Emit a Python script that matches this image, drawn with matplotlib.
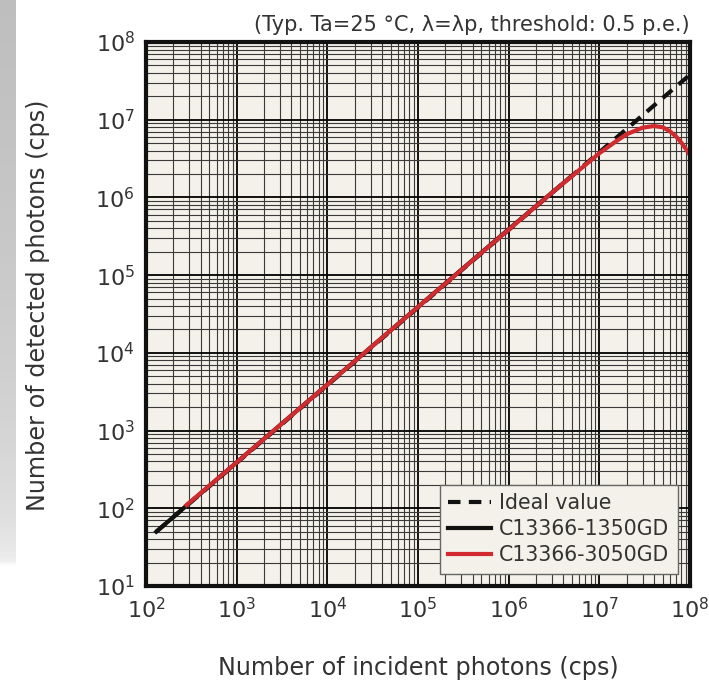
import numpy as np
import matplotlib.pyplot as plt
from matplotlib.ticker import LogLocator, NullFormatter

# data
ideal_x = [1.3e2, 1e8]
ideal_y = [5.0e1, 3.8e7]
c1350_x = [1.3e2, 1e3, 1e4, 1e5, 1e6, 5e6]
c1350_y = [5.0e1, 3.9e2, 3.9e3, 3.9e4, 3.9e5, 1.9e6]
c3050_x = [2.8e2, 1e3, 1e4, 1e5, 1e6, 3e6, 6e6, 1e7, 1.5e7, 2e7, 3e7, 4e7, 5e7, 6e7, 7e7, 8e7, 9e7, 1e8]
c3050_y = [1.1e2, 3.9e2, 3.9e3, 3.9e4, 3.85e5, 1.15e6, 2.25e6, 3.7e6, 5.2e6, 6.5e6, 7.9e6, 8.3e6, 8.0e6, 7.1e6, 6.1e6, 5.1e6, 4.2e6, 3.5e6]

bg = '#f3f1e9'
txt = '#333333'

fig = plt.figure(figsize=(7.09, 6.86), dpi=100)

# grey page shadow at the left edge
sh = fig.add_axes([0, 0.17, 0.022, 0.83])
grad = np.outer(np.linspace(0.0, 1.0, 100) ** 0.3, np.ones(10))
shade = np.ones((100, 10, 4))
shade[..., :3] = 0.72
shade[..., 3] = grad * 0.9
sh.imshow(shade, aspect='auto', origin='lower')
sh.axis('off')

ax = fig.add_axes([146/709, 1 - 586/686, 544/709, 544/686])
ax.set_facecolor(bg)
ax.set_xscale('log')
ax.set_yscale('log')
ax.set_xlim(1e2, 1e8)
ax.set_ylim(1e1, 1e8)

ax.xaxis.set_major_locator(LogLocator(base=10, numticks=10))
ax.yaxis.set_major_locator(LogLocator(base=10, numticks=10))
ax.xaxis.set_minor_locator(LogLocator(base=10, subs=np.arange(2, 10), numticks=20))
ax.yaxis.set_minor_locator(LogLocator(base=10, subs=np.arange(2, 10), numticks=20))
ax.xaxis.set_minor_formatter(NullFormatter())
ax.yaxis.set_minor_formatter(NullFormatter())
ax.grid(which='major', color='black', linewidth=1.3)
ax.grid(which='minor', color='#3a3a3a', linewidth=0.8)
ax.tick_params(which='both', length=0, labelsize=16, labelcolor=txt, pad=8)
for s in ax.spines.values():
    s.set_linewidth(3)
    s.set_color('#111111')

ax.plot(ideal_x, ideal_y, color='#111111', linestyle=(0, (3, 2)), linewidth=3, label='Ideal value')
ax.plot(c1350_x, c1350_y, color='#111111', linewidth=3, label='C13366-1350GD')
ax.plot(c3050_x, c3050_y, color='#d12a2f', linewidth=3, label='C13366-3050GD')

leg = ax.legend(loc='lower right', fontsize=14.8, frameon=True, fancybox=False,
                handlelength=2.1, handletextpad=0.4, borderpad=0.4,
                labelspacing=0.3, borderaxespad=0.6)
leg.get_frame().set_facecolor(bg)
leg.get_frame().set_edgecolor('#666666')
leg.get_frame().set_alpha(1)
for t in leg.get_texts():
    t.set_color(txt)

ax.text(1.0, 1.012, '(Typ. Ta=25 °C, λ=λp, threshold: 0.5 p.e.)', transform=ax.transAxes,
        ha='right', va='bottom', fontsize=15, color=txt)
fig.text(418/709, 1 - 668/686, 'Number of incident photons (cps)', ha='center', va='center',
         fontsize=17.2, color=txt)
fig.text(38/709, 1 - 305/686, 'Number of detected photons (cps)', ha='center', va='center',
         rotation=90, fontsize=17.2, color=txt)

fig.savefig('out.png', dpi=100, facecolor='white')
